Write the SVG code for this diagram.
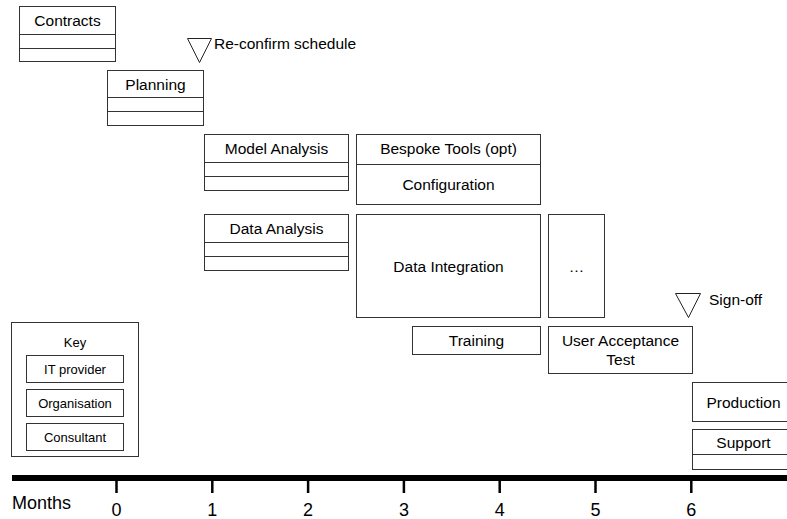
<svg xmlns="http://www.w3.org/2000/svg" width="787" height="519" viewBox="0 0 787 519">
<style>
rect.b{fill:#fff;stroke:#333;stroke-width:1}
line.d{stroke:#333;stroke-width:1}
text{font-family:"Liberation Sans",Arial,sans-serif;font-size:15.5px;fill:#000}
text.c{text-anchor:middle}
text.k{font-size:13px}
text.ax{font-size:18px}
polygon.m{fill:#fff;stroke:#222;stroke-width:1}
line.t{stroke:#000;stroke-width:2.5}
</style>
<rect width="787" height="519" fill="#fff"/>
<g id="contracts">
<rect class="b" x="19.5" y="6.5" width="96" height="55"/>
<line class="d" x1="19.5" y1="34.5" x2="115.5" y2="34.5"/>
<line class="d" x1="19.5" y1="48.5" x2="115.5" y2="48.5"/>
<text class="c" x="67.5" y="26">Contracts</text>
</g>
<g id="planning">
<rect class="b" x="107.5" y="70.5" width="96" height="55"/>
<line class="d" x1="107.5" y1="97.5" x2="203.5" y2="97.5"/>
<line class="d" x1="107.5" y1="111.5" x2="203.5" y2="111.5"/>
<text class="c" x="155.5" y="89.5">Planning</text>
</g>
<g id="reconfirm">
<polygon class="m" points="187.5,38.5 211.5,38.5 199.5,62.5"/>
<text x="214" y="49">Re-confirm schedule</text>
</g>
<g id="model-analysis">
<rect class="b" x="204.5" y="134.5" width="144" height="56"/>
<line class="d" x1="204.5" y1="162.5" x2="348.5" y2="162.5"/>
<line class="d" x1="204.5" y1="176.5" x2="348.5" y2="176.5"/>
<text class="c" x="276.5" y="153.5">Model Analysis</text>
</g>
<g id="bespoke-config">
<rect class="b" x="356.5" y="134.5" width="184" height="70"/>
<line class="d" x1="356.5" y1="164.5" x2="540.5" y2="164.5"/>
<text class="c" x="448.5" y="153.5">Bespoke Tools (opt)</text>
<text class="c" x="448.5" y="190">Configuration</text>
</g>
<g id="data-analysis">
<rect class="b" x="204.5" y="214.5" width="144" height="56"/>
<line class="d" x1="204.5" y1="242.5" x2="348.5" y2="242.5"/>
<line class="d" x1="204.5" y1="256.5" x2="348.5" y2="256.5"/>
<text class="c" x="276.5" y="233.5">Data Analysis</text>
</g>
<g id="data-integration">
<rect class="b" x="356.5" y="214.5" width="184" height="103"/>
<text class="c" x="448.5" y="272">Data Integration</text>
</g>
<g id="ellipsis">
<rect class="b" x="548.5" y="214.5" width="56" height="103"/>
<text class="c" x="576.5" y="272">…</text>
</g>
<g id="training">
<rect class="b" x="412.5" y="326.5" width="128" height="28"/>
<text class="c" x="476.5" y="346">Training</text>
</g>
<g id="uat">
<rect class="b" x="548.5" y="326.5" width="144" height="47"/>
<text class="c" x="620.5" y="346">User Acceptance</text>
<text class="c" x="620.5" y="365">Test</text>
</g>
<g id="signoff">
<polygon class="m" points="675.5,293.5 700.5,293.5 688.5,317.5"/>
<text x="709" y="305">Sign-off</text>
</g>
<g id="production">
<rect class="b" x="692.5" y="382.5" width="102" height="39"/>
<text class="c" x="743.5" y="407.5">Production</text>
</g>
<g id="support">
<rect class="b" x="692.5" y="429.5" width="102" height="40"/>
<line class="d" x1="692.5" y1="454.5" x2="794.5" y2="454.5"/>
<text class="c" x="743.5" y="447.5">Support</text>
</g>
<g id="key">
<rect class="b" x="11.5" y="322.5" width="127" height="134"/>
<text class="c k" x="75" y="347">Key</text>
<rect class="b" x="26.5" y="355.5" width="97" height="27"/>
<text class="c k" x="75" y="374">IT provider</text>
<rect class="b" x="26.5" y="389.5" width="97" height="27"/>
<text class="c k" x="75" y="408">Organisation</text>
<rect class="b" x="26.5" y="423.5" width="97" height="27"/>
<text class="c k" x="75" y="442">Consultant</text>
</g>
<g id="axis">
<rect x="12" y="475" width="775" height="6" fill="#000"/>
<line class="t" x1="116.5" y1="480" x2="116.5" y2="493"/>
<line class="t" x1="212.3" y1="480" x2="212.3" y2="493"/>
<line class="t" x1="308.1" y1="480" x2="308.1" y2="493"/>
<line class="t" x1="403.9" y1="480" x2="403.9" y2="493"/>
<line class="t" x1="499.7" y1="480" x2="499.7" y2="493"/>
<line class="t" x1="595.5" y1="480" x2="595.5" y2="493"/>
<line class="t" x1="691.3" y1="480" x2="691.3" y2="493"/>
<text class="ax" x="12" y="509">Months</text>
<text class="c ax" x="116.5" y="516">0</text>
<text class="c ax" x="212.3" y="516">1</text>
<text class="c ax" x="308.1" y="516">2</text>
<text class="c ax" x="403.9" y="516">3</text>
<text class="c ax" x="499.7" y="516">4</text>
<text class="c ax" x="595.5" y="516">5</text>
<text class="c ax" x="691.3" y="516">6</text>
</g>
</svg>
